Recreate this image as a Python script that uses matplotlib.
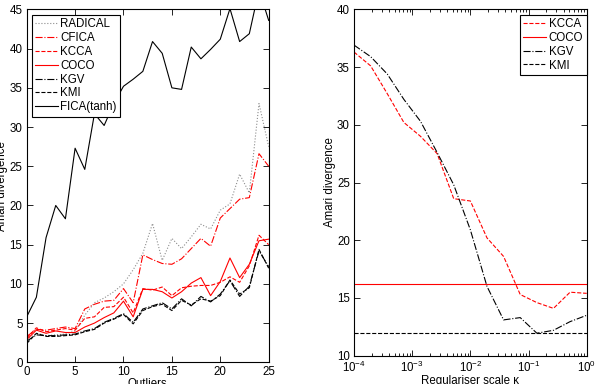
import matplotlib
matplotlib.use("Agg")
import matplotlib.pyplot as plt
import numpy as np

plt.rcParams['font.family'] = ['Liberation Sans', 'DejaVu Sans']
plt.rcParams['mathtext.default'] = 'regular'
plt.rcParams['font.size'] = 8.3

# ---------------- Left panel data: Amari divergence vs outliers ----------------
outliers = list(range(0, 26))
radical = [2.9, 3.7, 3.4, 3.5, 3.6, 4.0, 6.0, 7.6, 8.2, 9.0, 10.0, 11.8, 13.9, 17.7,
           13.0, 15.8, 14.5, 16.0, 17.6, 17.0, 19.4, 20.2, 24.0, 21.6, 33.0, 27.5]
cfica = [3.3, 4.2, 4.1, 4.3, 4.5, 4.3, 6.8, 7.4, 7.8, 7.9, 9.4, 7.6, 13.7, 13.1,
         12.6, 12.5, 13.2, 14.5, 15.8, 14.8, 18.4, 19.6, 20.8, 21.0, 26.6, 25.0]
kcca = [3.1, 4.4, 3.9, 4.1, 4.3, 4.1, 5.6, 5.8, 7.0, 7.1, 8.3, 6.3, 9.4, 9.2,
        9.6, 8.5, 9.5, 9.7, 9.8, 9.8, 10.2, 10.9, 10.2, 12.3, 16.2, 15.0]
coco = [2.9, 4.1, 3.7, 4.0, 3.8, 3.8, 4.5, 5.0, 5.7, 6.3, 7.8, 5.8, 9.3, 9.3,
        9.0, 8.2, 9.0, 10.1, 10.8, 8.5, 10.3, 13.3, 10.8, 12.5, 15.5, 15.7]
kgv = [2.7, 3.5, 3.4, 3.4, 3.5, 3.6, 4.0, 4.3, 5.1, 5.6, 6.2, 5.1, 6.8, 7.2,
       7.6, 6.8, 8.1, 7.2, 8.4, 7.7, 8.7, 10.4, 8.4, 9.7, 14.2, 12.2]
kmi = [2.4, 3.7, 3.3, 3.3, 3.4, 3.5, 3.9, 4.2, 5.0, 5.5, 6.1, 4.9, 6.6, 7.1,
       7.4, 6.6, 7.9, 7.3, 8.1, 7.8, 8.5, 10.5, 8.7, 9.5, 14.4, 12.0]
fica = [5.8, 8.3, 15.9, 20.0, 18.3, 27.3, 24.6, 31.7, 30.2, 33.0, 35.2, 36.1, 37.1,
        40.9, 39.4, 35.0, 34.8, 40.2, 38.7, 39.9, 41.2, 45.1, 40.9, 41.9, 47.5, 43.6]

# ---------------- Right panel data: Amari divergence vs regulariser ----------------
log_kappa = [-4.0, -3.714, -3.429, -3.143, -2.857, -2.571, -2.286, -2.0, -1.714,
             -1.429, -1.143, -0.857, -0.571, -0.286, 0.0]
kcca_reg = [36.3, 35.1, 32.7, 30.2, 29.0, 27.5, 23.6, 23.4, 20.2, 18.6, 15.3,
            14.6, 14.1, 15.5, 15.4]
kgv_reg = [36.9, 35.9, 34.4, 32.2, 30.3, 27.6, 24.8, 20.9, 16.0, 13.1, 13.3,
           11.95, 12.2, 12.95, 13.5]
coco_reg = 16.2
kmi_reg = 12.0

fig = plt.figure(figsize=(5.96, 3.84), dpi=100)

# Left axes
ax1 = fig.add_axes([0.0448, 0.0565, 0.406, 0.919])
lw = 0.8
ax1.plot(outliers, radical, linestyle=':', color='0.55', lw=lw, label='RADICAL')
ax1.plot(outliers, cfica, linestyle='-.', color='red', lw=lw, label='CFICA')
ax1.plot(outliers, kcca, linestyle='--', color='red', lw=lw, label='KCCA')
ax1.plot(outliers, coco, linestyle='-', color='red', lw=lw, label='COCO')
ax1.plot(outliers, kgv, linestyle='-.', color='black', lw=lw, label='KGV')
ax1.plot(outliers, kmi, linestyle='--', color='black', lw=lw, label='KMI')
ax1.plot(outliers, fica, linestyle='-', color='black', lw=lw, label='FICA(tanh)')
ax1.set_xlim(0, 25)
ax1.set_ylim(0, 45)
ax1.set_xticks(range(0, 26, 5))
ax1.set_yticks(range(0, 46, 5))
ax1.set_xlabel('Outliers', labelpad=0)
ax1.set_ylabel('Amari divergence', labelpad=1)
ax1.tick_params(direction='in', top=True, right=True, length=4, width=0.6, pad=3)
for s in ax1.spines.values():
    s.set_linewidth(0.8)
leg1 = ax1.legend(loc='upper left', bbox_to_anchor=(0.02, 0.985), fancybox=False,
                  edgecolor='black', framealpha=1, handlelength=2.0, handletextpad=0.2,
                  labelspacing=0.16, borderpad=0.3, borderaxespad=0.0, fontsize=8.3)
leg1.get_frame().set_linewidth(0.8)

# Right axes
ax2 = fig.add_axes([0.594, 0.0737, 0.3904, 0.902])
kappa = 10.0 ** np.array(log_kappa)
ax2.plot(kappa, kcca_reg, linestyle='--', color='red', lw=lw, label='KCCA')
ax2.axhline(coco_reg, linestyle='-', color='red', lw=lw, label='COCO')
ax2.plot(kappa, kgv_reg, linestyle='-.', color='black', lw=lw, label='KGV')
ax2.axhline(kmi_reg, linestyle='--', color='black', lw=lw, label='KMI')
ax2.set_xscale('log')
ax2.set_xlim(1e-4, 1)
ax2.set_ylim(10, 40)
ax2.set_yticks(range(10, 41, 5))
ax2.set_xlabel('Regulariser scale κ', labelpad=0)
ax2.set_ylabel('Amari divergence', labelpad=0.5)
ax2.tick_params(which='both', direction='in', top=True, right=True, width=0.6, pad=3)
ax2.tick_params(which='major', length=4)
ax2.tick_params(which='minor', length=2)
for s in ax2.spines.values():
    s.set_linewidth(0.8)
leg2 = ax2.legend(loc='upper right', bbox_to_anchor=(1.0, 0.985), fancybox=False,
                  edgecolor='black', framealpha=1, handlelength=2.0, handletextpad=0.2,
                  labelspacing=0.16, borderpad=0.3, borderaxespad=0.0, fontsize=8.3)
leg2.get_frame().set_linewidth(0.8)

fig.savefig('out.png', dpi=100)
